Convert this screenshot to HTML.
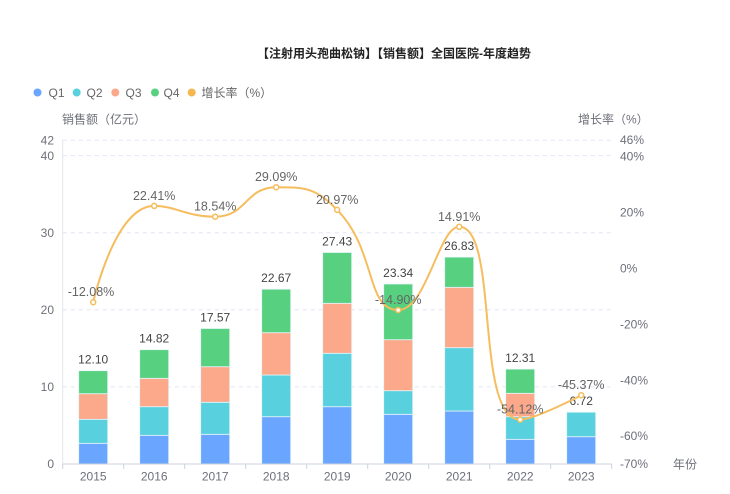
<!DOCTYPE html>
<html><head><meta charset="utf-8">
<style>
html,body{margin:0;padding:0;background:#fff;}
svg{display:block;font-family:"Liberation Sans","Noto Sans CJK SC",sans-serif;}
</style></head>
<body>
<svg width="730" height="494" viewBox="0 0 730 494" xmlns="http://www.w3.org/2000/svg">
<rect width="730" height="494" fill="#fff"/>
<text x="394" y="57.5" text-anchor="middle" font-size="12" font-weight="bold" fill="#222">【注射用头孢曲松钠】【销售额】全国医院-年度趋势</text>

<g font-size="12" fill="#666">
<circle cx="37.5" cy="92.5" r="4" fill="#6aa6ff"/><text x="48.5" y="97">Q1</text>
<circle cx="76.7" cy="92.5" r="4" fill="#58d0de"/><text x="86.5" y="97">Q2</text>
<circle cx="115.3" cy="92.5" r="4" fill="#fca88b"/><text x="125.5" y="97">Q3</text>
<circle cx="155" cy="92.5" r="4" fill="#57d07f"/><text x="163.5" y="97">Q4</text>
<circle cx="191.7" cy="92.5" r="4" fill="#f5b84f"/><text x="201.5" y="97">增长率（%）</text>
</g>

<g font-size="12" fill="#6e7079">
<text x="62" y="123.5">销售额（亿元）</text>
<text x="578" y="123.5">增长率（%）</text>
<text x="673" y="468.5">年份</text>
</g>

<!-- grid -->
<g stroke="#e0e6f1" stroke-width="1" stroke-dasharray="4,4">
<line x1="62.7" y1="140.2" x2="611.7" y2="140.2"/>
<line x1="62.7" y1="155.6" x2="611.7" y2="155.6"/>
<line x1="62.7" y1="232.7" x2="611.7" y2="232.7"/>
<line x1="62.7" y1="309.8" x2="611.7" y2="309.8"/>
<line x1="62.7" y1="386.9" x2="611.7" y2="386.9"/>
</g>
<line x1="62.7" y1="140" x2="62.7" y2="464" stroke="#e3e6ec" stroke-width="1"/>

<!-- left labels -->
<g font-size="12" fill="#6e7079" text-anchor="end">
<text x="54" y="144.5">42</text>
<text x="54" y="159.8">40</text>
<text x="54" y="237">30</text>
<text x="54" y="314">20</text>
<text x="54" y="391">10</text>
<text x="54" y="468">0</text>
</g>
<!-- right labels -->
<g font-size="12" fill="#6e7079">
<text x="620" y="144">46%</text>
<text x="620" y="160.6">40%</text>
<text x="620" y="216.5">20%</text>
<text x="620" y="272.5">0%</text>
<text x="620" y="328.5">-20%</text>
<text x="620" y="384.4">-40%</text>
<text x="620" y="440.2">-60%</text>
<text x="620" y="468.2">-70%</text>
</g>

<!-- bars -->
<g stroke="#e4f4f8" stroke-width="0.8">
<rect x="78.7" y="443.3" width="29" height="20.7" fill="#6aa6ff"/>
<rect x="78.7" y="419.3" width="29" height="24" fill="#58d0de"/>
<rect x="78.7" y="393.7" width="29" height="25.6" fill="#fca88b"/>
<rect x="78.7" y="370.7" width="29" height="23" fill="#57d07f"/>

<rect x="139.7" y="435.3" width="29" height="28.7" fill="#6aa6ff"/>
<rect x="139.7" y="406.7" width="29" height="28.6" fill="#58d0de"/>
<rect x="139.7" y="378.3" width="29" height="28.4" fill="#fca88b"/>
<rect x="139.7" y="349.7" width="29" height="28.6" fill="#57d07f"/>

<rect x="200.7" y="434.3" width="29" height="29.7" fill="#6aa6ff"/>
<rect x="200.7" y="402.3" width="29" height="32" fill="#58d0de"/>
<rect x="200.7" y="366.7" width="29" height="35.6" fill="#fca88b"/>
<rect x="200.7" y="328.5" width="29" height="38.2" fill="#57d07f"/>

<rect x="261.7" y="416.7" width="29" height="47.3" fill="#6aa6ff"/>
<rect x="261.7" y="375" width="29" height="41.7" fill="#58d0de"/>
<rect x="261.7" y="332.7" width="29" height="42.3" fill="#fca88b"/>
<rect x="261.7" y="289.2" width="29" height="43.5" fill="#57d07f"/>

<rect x="322.7" y="406.7" width="29" height="57.3" fill="#6aa6ff"/>
<rect x="322.7" y="353.3" width="29" height="53.4" fill="#58d0de"/>
<rect x="322.7" y="303.3" width="29" height="50" fill="#fca88b"/>
<rect x="322.7" y="252.5" width="29" height="50.8" fill="#57d07f"/>

<rect x="383.7" y="414.3" width="29" height="49.7" fill="#6aa6ff"/>
<rect x="383.7" y="390.7" width="29" height="23.6" fill="#58d0de"/>
<rect x="383.7" y="339.7" width="29" height="51" fill="#fca88b"/>
<rect x="383.7" y="284" width="29" height="55.7" fill="#57d07f"/>

<rect x="444.7" y="411" width="29" height="53" fill="#6aa6ff"/>
<rect x="444.7" y="347.7" width="29" height="63.3" fill="#58d0de"/>
<rect x="444.7" y="287.3" width="29" height="60.4" fill="#fca88b"/>
<rect x="444.7" y="257.1" width="29" height="30.2" fill="#57d07f"/>

<rect x="505.7" y="439.3" width="29" height="24.7" fill="#6aa6ff"/>
<rect x="505.7" y="416.7" width="29" height="22.6" fill="#58d0de"/>
<rect x="505.7" y="393.3" width="29" height="23.4" fill="#fca88b"/>
<rect x="505.7" y="369.1" width="29" height="24.2" fill="#57d07f"/>

<rect x="566.7" y="436.7" width="29" height="27.3" fill="#6aa6ff"/>
<rect x="566.7" y="412.2" width="29" height="24.5" fill="#58d0de"/>
</g>

<!-- x axis -->
<line x1="62.7" y1="464" x2="611.7" y2="464" stroke="#ccd3de" stroke-width="1"/>
<g stroke="#ccd3de" stroke-width="1">
<line x1="62.7" y1="464" x2="62.7" y2="469"/>
<line x1="123.7" y1="464" x2="123.7" y2="469"/>
<line x1="184.7" y1="464" x2="184.7" y2="469"/>
<line x1="245.7" y1="464" x2="245.7" y2="469"/>
<line x1="306.7" y1="464" x2="306.7" y2="469"/>
<line x1="367.7" y1="464" x2="367.7" y2="469"/>
<line x1="428.7" y1="464" x2="428.7" y2="469"/>
<line x1="489.7" y1="464" x2="489.7" y2="469"/>
<line x1="550.7" y1="464" x2="550.7" y2="469"/>
<line x1="611.7" y1="464" x2="611.7" y2="469"/>
</g>
<g font-size="12" fill="#6e7079" text-anchor="middle">
<text x="93.2" y="480.5">2015</text>
<text x="154.2" y="480.5">2016</text>
<text x="215.2" y="480.5">2017</text>
<text x="276.2" y="480.5">2018</text>
<text x="337.2" y="480.5">2019</text>
<text x="398.2" y="480.5">2020</text>
<text x="459.2" y="480.5">2021</text>
<text x="520.2" y="480.5">2022</text>
<text x="581.2" y="480.5">2023</text>
</g>

<!-- bar totals -->
<g font-size="12" fill="#444" text-anchor="middle">
<text x="93.2" y="363.7">12.10</text>
<text x="154.2" y="342.7">14.82</text>
<text x="215.2" y="321.5">17.57</text>
<text x="276.2" y="282.2">22.67</text>
<text x="337.2" y="245.5">27.43</text>
<text x="398.2" y="277">23.34</text>
<text x="459.2" y="250.1">26.83</text>
<text x="520.2" y="362.1">12.31</text>
<text x="581.2" y="405.2">6.72</text>
</g>

<!-- growth line -->
<path id="gl" d="M93.2,302.2L154.2,205.9L215.2,216.7L276.2,187.2L337.2,209.9L398.2,310.1L459.2,226.8L520.2,419.6L581.2,395.2" fill="none" stroke="#f5bd5e" stroke-width="2"/>
<g fill="#fff" stroke="#f5bd5e" stroke-width="1.5">
<circle cx="93.2" cy="302.2" r="2.5"/>
<circle cx="154.2" cy="205.9" r="2.5"/>
<circle cx="215.2" cy="216.7" r="2.5"/>
<circle cx="276.2" cy="187.2" r="2.5"/>
<circle cx="337.2" cy="209.9" r="2.5"/>
<circle cx="398.2" cy="310.1" r="2.5"/>
<circle cx="459.2" cy="226.8" r="2.5"/>
<circle cx="520.2" cy="419.6" r="2.5"/>
<circle cx="581.2" cy="395.2" r="2.5"/>
</g>
<g font-size="12.5" fill="#666" text-anchor="middle">
<text x="91" y="296.2">-12.08%</text>
<text x="154.2" y="199.9">22.41%</text>
<text x="215.2" y="210.7">18.54%</text>
<text x="276.2" y="181.2">29.09%</text>
<text x="337.2" y="203.9">20.97%</text>
<text x="398.2" y="304.1">-14.90%</text>
<text x="459.2" y="220.8">14.91%</text>
<text x="520.2" y="413.6">-54.12%</text>
<text x="581.2" y="389.2">-45.37%</text>
</g>
</svg>
<script>
(function(){
var P=[[93.2,302.2],[154.2,205.9],[215.2,216.7],[276.2,187.2],[337.2,209.9],[398.2,310.1],[459.2,226.8],[520.2,419.6],[581.2,395.2]];
var s=0.5,n=P.length;
var d='M'+P[0][0]+','+P[0][1];
var cx0=P[0][0],cy0=P[0][1];
for(var i=1;i<n;i++){
var x=P[i][0],y=P[i][1],px=P[i-1][0],py=P[i-1][1];
var c1x,c1y,ncx=x,ncy=y;
if(i+1>=n){c1x=x;c1y=y;}
else{
var nx=P[i+1][0],ny=P[i+1][1];
var vx=nx-px,vy=ny-py;
var l0=Math.sqrt((x-px)*(x-px)+(y-py)*(y-py)),l1=Math.sqrt((nx-x)*(nx-x)+(ny-y)*(ny-y));
var r=l1/(l1+l0);
ncx=x+vx*s*r;ncy=y+vy*s*r;
ncx=Math.min(ncx,Math.max(nx,x));ncy=Math.min(ncy,Math.max(ny,y));
ncx=Math.max(ncx,Math.min(nx,x));ncy=Math.max(ncy,Math.min(ny,y));
vx=ncx-x;vy=ncy-y;
c1x=x-vx*l0/l1;c1y=y-vy*l0/l1;
c1x=Math.min(c1x,Math.max(px,x));c1y=Math.min(c1y,Math.max(py,y));
c1x=Math.max(c1x,Math.min(px,x));c1y=Math.max(c1y,Math.min(py,y));
vx=x-c1x;vy=y-c1y;
ncx=x+vx*l1/l0;ncy=y+vy*l1/l0;
}
d+='C'+cx0.toFixed(2)+','+cy0.toFixed(2)+','+c1x.toFixed(2)+','+c1y.toFixed(2)+','+x+','+y;
cx0=ncx;cy0=ncy;
}
document.getElementById('gl').setAttribute('d',d);
})();
</script>
</body></html>
